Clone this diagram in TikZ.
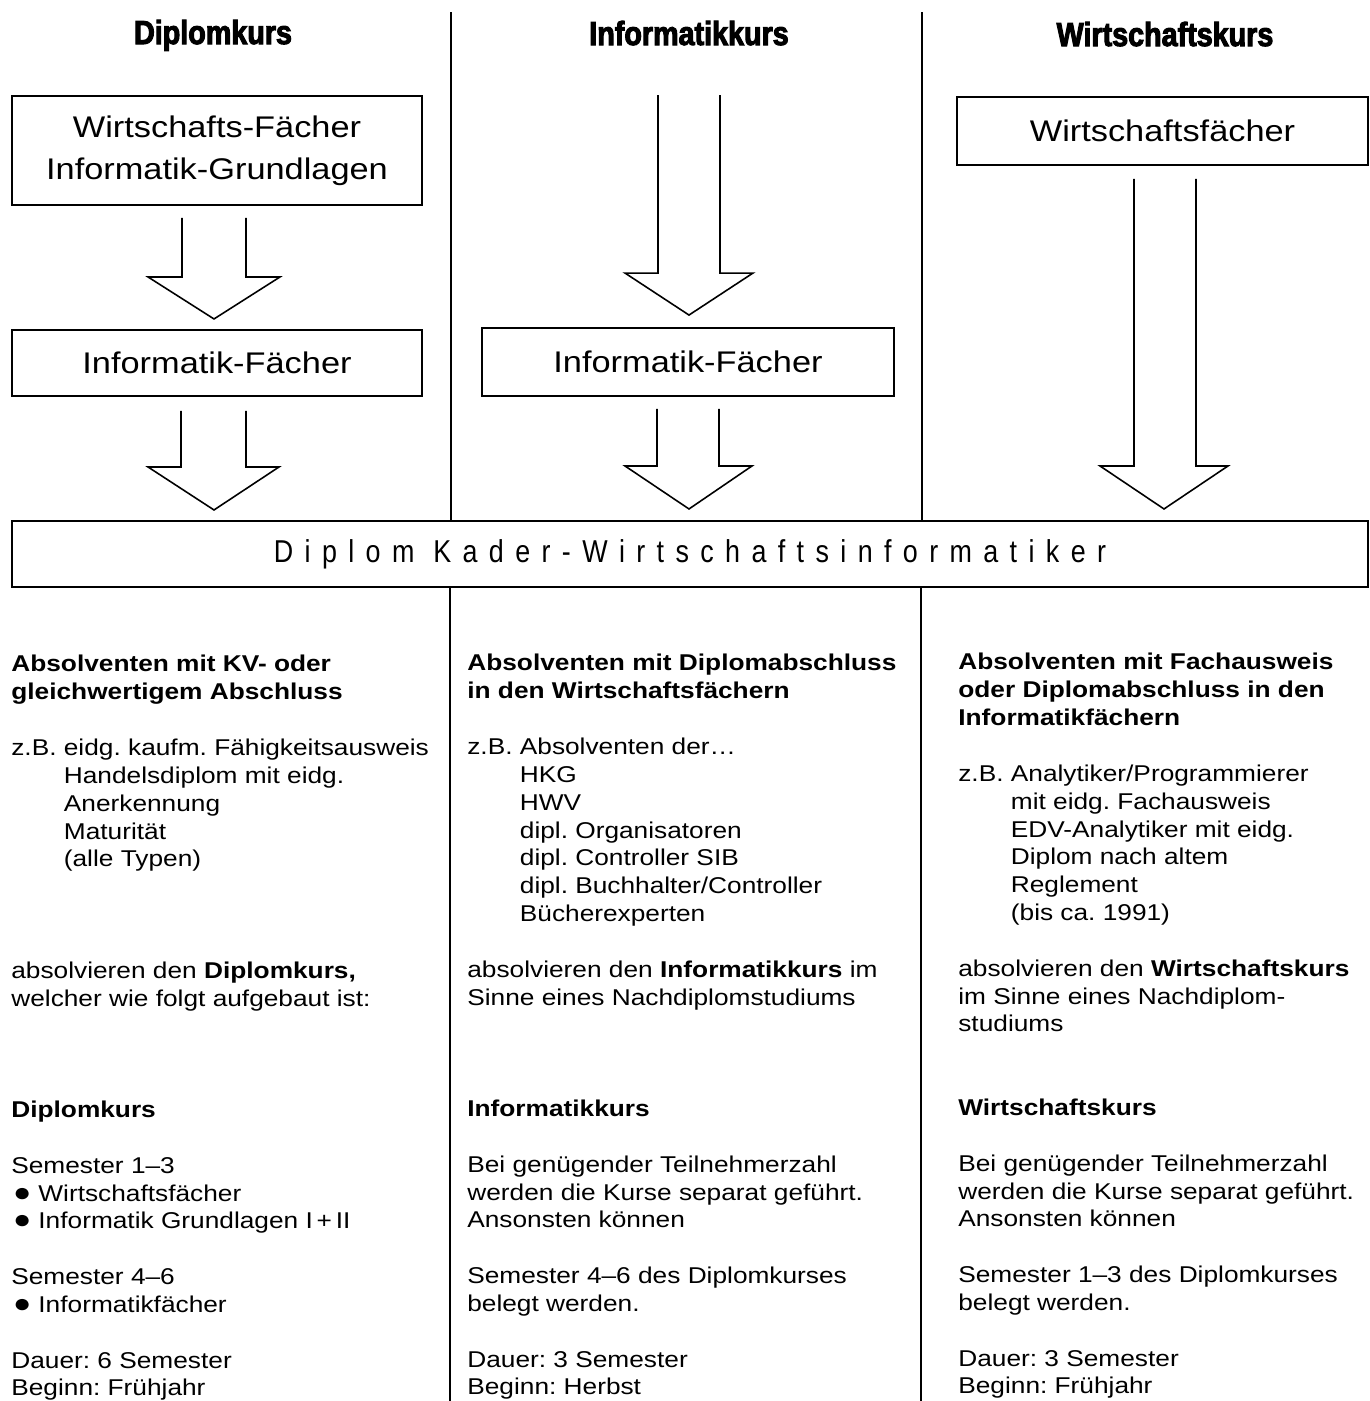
\documentclass[tikz,border=0pt]{standalone}
\usepackage{fontspec}
\setmainfont{Liberation Sans}[FakeStretch=1.15]
\newfontfamily\kursfont{Liberation Sans}[FakeBold=3, FakeStretch=0.86]
\newfontfamily\sperrfont{Liberation Sans}[LetterSpace=36, FakeStretch=0.85]
\usetikzlibrary{positioning}
\frenchspacing

\begin{document}
\begin{tikzpicture}[
  x=0.02cm, y=-0.02cm,
  kurs/.style={font=\kursfont\bfseries\fontsize{19}{22}\selectfont, anchor=base, inner sep=0pt},
  fach/.style={draw, line width=1.1pt, minimum width=8.2cm, minimum height=1.32cm,
               inner sep=0pt, align=center, font=\fontsize{17}{23.8}\selectfont},
  diplom/.style={draw, line width=1.1pt, minimum width=27.12cm, minimum height=1.32cm,
                 inner sep=0pt, font=\sperrfont\fontsize{18}{21}\selectfont},
  spalte/.style={anchor=north west, inner sep=0pt, align=left,
                 font=\fontsize{13}{15.85}\selectfont},
  hohl/.style={line width=0.9pt, line join=miter},
  trenn/.style={line width=1.1pt}
]
\useasboundingbox (0,0) rectangle (1370,1401);

% Kopfzeile
\node[kurs] (kursD) at (213,44) {Diplomkurs};
\node[kurs] (kursI) at (689,45) {Informatikkurs};
\node[kurs] (kursW) at (1165,46) {Wirtschaftskurs};

% Faecher
\node[fach, minimum height=2.18cm] (wfD) at (217,150.5) {Wirtschafts-Fächer\\Informatik-Grundlagen};
\node[fach] (ifD) at (217,363) {Informatik-Fächer};
\node[fach, minimum width=8.24cm, minimum height=1.36cm] (ifI) at (688,362) {Informatik-Fächer};
\node[fach, minimum width=8.22cm, minimum height=1.36cm] (wfW) at (1162.5,131) {Wirtschaftsfächer};
\node[diplom] (diplom) at (690,554) {Diplom Kader-Wirtschaftsinformatiker};

% Blockpfeile
\draw[hohl] (wfD.south) ++(-35,12) -- ++(0,59) -- ++(-34,0) -- ++(66,42) -- ++(66,-42) -- ++(-34,0) -- ++(0,-59);
\draw[hohl] (ifD.south) ++(-36,14) -- ++(0,56) -- ++(-33,0) -- ++(66,43) -- ++(65,-43) -- ++(-33,0) -- ++(0,-56);
\draw[hohl] (ifI.north) ++(-30,-232) -- ++(0,178) -- ++(-33,0) -- ++(64,42) -- ++(64,-42) -- ++(-33,0) -- ++(0,-178);
\draw[hohl] (ifI.south) ++(-31,12) -- ++(0,57) -- ++(-32,0) -- ++(64,43) -- ++(63,-43) -- ++(-33,0) -- ++(0,-57);
\draw[hohl] (wfW.south) ++(-28.5,13) -- ++(0,287) -- ++(-34,0) -- ++(64,43) -- ++(64,-43) -- ++(-32,0) -- ++(0,-287);

% Trennlinien
\coordinate (t1) at (451,12);
\coordinate (t2) at (922,12);
\coordinate (b1) at (450,1401);
\coordinate (b2) at (921,1401);
\draw[trenn] (t1) -- (t1 |- diplom.north);
\draw[trenn] (t2) -- (t2 |- diplom.north);
\draw[trenn] (b1 |- diplom.south) -- (b1);
\draw[trenn] (b2 |- diplom.south) -- (b2);

% Spalten
\node[spalte] (textD) at (11,655) {\textbf{Absolventen mit KV- oder}\\
  \textbf{gleichwertigem Abschluss}\\[\baselineskip]
  z.B. eidg. kaufm. Fähigkeitsausweis\\
  \phantom{z.B. }Handelsdiplom mit eidg.\\
  \phantom{z.B. }Anerkennung\\
  \phantom{z.B. }Maturität\\
  \phantom{z.B. }(alle Typen)\\[3\baselineskip]
  absolvieren den \textbf{Diplomkurs,}\\
  welcher wie folgt aufgebaut ist:\\[3\baselineskip]
  \textbf{Diplomkurs}\\[\baselineskip]
  Semester 1–3\\
  \hspace{1pt}{\fontsize{15}{15}\selectfont ●}\hspace{4pt}Wirtschaftsfächer\\
  \hspace{1pt}{\fontsize{15}{15}\selectfont ●}\hspace{4pt}Informatik Grundlagen I\,+\,II\\[\baselineskip]
  Semester 4–6\\
  \hspace{1pt}{\fontsize{15}{15}\selectfont ●}\hspace{4pt}Informatikfächer\\[\baselineskip]
  Dauer: 6 Semester\\
  Beginn: Frühjahr};

\node[spalte] (textI) at (467,654) {\textbf{Absolventen mit Diplomabschluss}\\
  \textbf{in den Wirtschaftsfächern}\\[\baselineskip]
  z.B. Absolventen der\ldots\\
  \phantom{z.B. }HKG\\
  \phantom{z.B. }HWV\\
  \phantom{z.B. }dipl. Organisatoren\\
  \phantom{z.B. }dipl. Controller SIB\\
  \phantom{z.B. }dipl. Buchhalter/Controller\\
  \phantom{z.B. }Bücherexperten\\[\baselineskip]
  absolvieren den \textbf{Informatikkurs} im\\
  Sinne eines Nachdiplomstudiums\\[3\baselineskip]
  \textbf{Informatikkurs}\\[\baselineskip]
  Bei genügender Teilnehmerzahl\\
  werden die Kurse separat geführt.\\
  Ansonsten können\\[\baselineskip]
  Semester 4–6 des Diplomkurses\\
  belegt werden.\\[\baselineskip]
  Dauer: 3 Semester\\
  Beginn: Herbst};

\node[spalte] (textW) at (958,653) {\textbf{Absolventen mit Fachausweis}\\
  \textbf{oder Diplomabschluss in den}\\
  \textbf{Informatikfächern}\\[\baselineskip]
  z.B. Analytiker/Programmierer\\
  \phantom{z.B. }mit eidg. Fachausweis\\
  \phantom{z.B. }EDV-Analytiker mit eidg.\\
  \phantom{z.B. }Diplom nach altem\\
  \phantom{z.B. }Reglement\\
  \phantom{z.B. }(bis ca. 1991)\\[\baselineskip]
  absolvieren den \textbf{Wirtschaftskurs}\\
  im Sinne eines Nachdiplom-\\
  studiums\\[2\baselineskip]
  \textbf{Wirtschaftskurs}\\[\baselineskip]
  Bei genügender Teilnehmerzahl\\
  werden die Kurse separat geführt.\\
  Ansonsten können\\[\baselineskip]
  Semester 1–3 des Diplomkurses\\
  belegt werden.\\[\baselineskip]
  Dauer: 3 Semester\\
  Beginn: Frühjahr};
\end{tikzpicture}
\end{document}
